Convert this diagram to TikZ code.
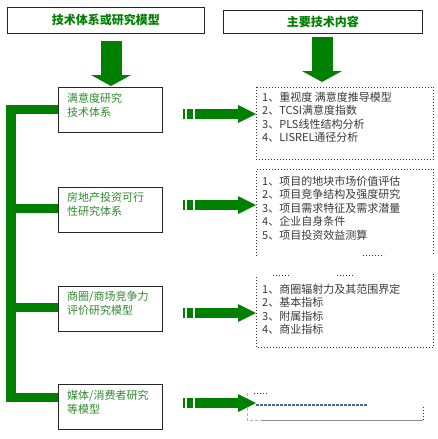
\documentclass[tikz,border=0pt]{standalone}
\usepackage{fontspec}
\newfontfamily\cjk{Noto Sans CJK SC}
\definecolor{dg}{HTML}{008000}
\definecolor{lg}{HTML}{2E8B2E}
\definecolor{tg}{HTML}{3A3A3A}
\definecolor{bl}{HTML}{4A6A8C}
\begin{document}
\begin{tikzpicture}[x=1pt,y=-1pt,
  hbox/.style={draw=black!85,line width=0.8pt,anchor=north west,inner sep=0pt,
    font=\cjk\bfseries\fontsize{12}{14}\selectfont,text=dg},
  lbox/.style={draw=black!85,line width=0.8pt,anchor=north west,inner sep=0pt,
    minimum width=104pt,minimum height=45pt},
  ltext/.style={anchor=north west,inner sep=0pt,align=left,text=lg,
    font=\cjk\fontsize{11}{14}\selectfont},
  rbox/.style={anchor=north west,inner sep=0pt,minimum width=177pt},
  rtext/.style={anchor=north west,inner sep=0pt,align=left,text=tg,
    font=\cjk\fontsize{11}{13.6}\selectfont},
  dotline/.style={draw=black!80,line width=0.8pt,dash pattern=on 0.8pt off 2.2pt},
  bus/.style={draw=dg,line width=9.5pt},
  rarrow/.pic={
    \fill[dg] (-61,-5) rectangle (-18,5);
    \fill[dg] (-18,-9) -- (0,0) -- (-18,9) -- cycle;
    \fill[dg] (-73,-5) rectangle (-71,5);
    \fill[dg] (-69,-5) rectangle (-63,5);
  },
  darrow/.pic={
    \fill[dg] (-10.5,-45) rectangle (10.5,-11);
    \fill[dg] (-20,-11) -- (20,-11) -- (0,0) -- cycle;
  }
]
\useasboundingbox[fill=white] (0,0) rectangle (438,439);

% headers
\node[hbox,minimum width=197pt,minimum height=26pt] (h1) at (7,7) {技术体系或研究模型};
\node[hbox,minimum width=199pt,minimum height=23pt] (h2) at (223,10) {主要技术内容};

% down arrows
\pic at (111,86) {darrow};
\pic at (322,82) {darrow};

% left boxes
\node[lbox] (b1) at (58,87) {};
\node[lbox] (b2) at (58,187) {};
\node[lbox] (b3) at (58,286) {};
\node[lbox] (b4) at (58,384) {};
\node[ltext] at ([shift={(9,5.5)}]b1.north west) {满意度研究\\技术体系};
\node[ltext] at ([shift={(9,5.5)}]b2.north west) {房地产投资可行\\性研究体系};
\node[ltext] at ([shift={(9,5.5)}]b3.north west) {商圈/商场竞争力\\评价研究模型};
\node[ltext] at ([shift={(9,5.5)}]b4.north west) {媒体/消费者研究\\等模型};

% bus
\draw[bus] (b1.west |- 0,109.5) -| (11,397.5) -- (b4.west |- 0,397.5);
\draw[bus] (11,208.5) -- (b2.west |- 0,208.5);
\draw[bus] (11,307.5) -- (b3.west |- 0,307.5);

% right boxes
\node[rbox,minimum height=72pt] (r1) at (256,87) {};
\draw[dotline] (r1.north west) rectangle (r1.south east);
\node[rbox,minimum height=86pt] (r2) at (256,169) {};
\draw[dotline] (r2.south west) -- (r2.north west) -- (r2.north east) -- (r2.south east);
\draw[dotline] (363,255) -- (384,255);
\node[rbox,minimum height=70pt] (r3) at (256,277) {};
\draw[dotline] (r3.north west) -- (r3.south west) -- (r3.south east) -- ([yshift=3]r3.north east);
\draw[dotline] (273,275) -- (289,275);
\draw[dotline] (337,275) -- (354,275);
\node[rbox,minimum width=176pt,minimum height=27pt] (r4) at (247,393) {};
\draw[black!30,line width=0.8pt,dash pattern=on 3pt off 2pt] (r4.north west) -- (r4.south west) -- ([xshift=15]r4.south west);
\draw[black!45,line width=0.8pt] ([xshift=15]r4.south west) -- (r4.south east);
\draw[dotline] (r4.east) -- (r4.south east);
\draw[dotline] (254,393) -- (268,393);
\draw[bl,line width=1.6pt,dash pattern=on 2.5pt off 1.5pt] (256,405) -- (367,405);

\node[rtext] at ([shift={(6,4.5)}]r1.north west) {1、重视度 满意度推导模型\\2、TCSI满意度指数\\3、PLS线性结构分析\\4、LISREL通径分析};
\node[rtext] at ([shift={(6,6.5)}]r2.north west) {1、项目的地块市场价值评估\\2、项目竞争结构及强度研究\\3、项目需求特征及需求潜量\\4、企业自身条件\\5、项目投资效益测算};
\node[rtext] at ([shift={(6,6.5)}]r3.north west) {1、商圈辐射力及其范围界定\\2、基本指标\\3、附属指标\\4、商业指标};

% right arrows
\pic at (r1.west |- 0,114) {rarrow};
\pic at (r2.west |- 0,205) {rarrow};
\pic at (r3.west |- 0,313) {rarrow};
\pic at (256,403) {rarrow};
\end{tikzpicture}
\end{document}
